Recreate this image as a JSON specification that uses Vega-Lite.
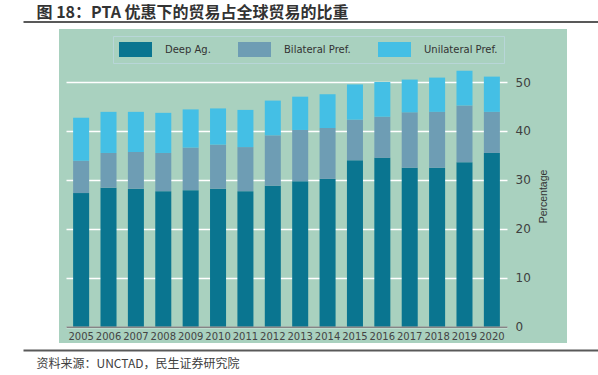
{
  "$schema": "https://vega.github.io/schema/vega-lite/v6.json",
  "width": 508,
  "height": 314,
  "autosize": {"type": "none"},
  "padding": {"left": 59, "top": 29, "right": 31, "bottom": 32},
  "background": "white",
  "data": {
    "values": [
      {"year": "2005", "type": "Deep Ag.", "value": 27.3}, {"year": "2005", "type": "Bilateral Pref.", "value": 6.6}, {"year": "2005", "type": "Unilateral Pref.", "value": 8.8},
      {"year": "2006", "type": "Deep Ag.", "value": 28.4}, {"year": "2006", "type": "Bilateral Pref.", "value": 7.1}, {"year": "2006", "type": "Unilateral Pref.", "value": 8.4},
      {"year": "2007", "type": "Deep Ag.", "value": 28.2}, {"year": "2007", "type": "Bilateral Pref.", "value": 7.5}, {"year": "2007", "type": "Unilateral Pref.", "value": 8.2},
      {"year": "2008", "type": "Deep Ag.", "value": 27.7}, {"year": "2008", "type": "Bilateral Pref.", "value": 7.8}, {"year": "2008", "type": "Unilateral Pref.", "value": 8.2},
      {"year": "2009", "type": "Deep Ag.", "value": 27.9}, {"year": "2009", "type": "Bilateral Pref.", "value": 8.7}, {"year": "2009", "type": "Unilateral Pref.", "value": 7.8},
      {"year": "2010", "type": "Deep Ag.", "value": 28.2}, {"year": "2010", "type": "Bilateral Pref.", "value": 9.0}, {"year": "2010", "type": "Unilateral Pref.", "value": 7.4},
      {"year": "2011", "type": "Deep Ag.", "value": 27.7}, {"year": "2011", "type": "Bilateral Pref.", "value": 9.0}, {"year": "2011", "type": "Unilateral Pref.", "value": 7.6},
      {"year": "2012", "type": "Deep Ag.", "value": 28.8}, {"year": "2012", "type": "Bilateral Pref.", "value": 10.3}, {"year": "2012", "type": "Unilateral Pref.", "value": 7.1},
      {"year": "2013", "type": "Deep Ag.", "value": 29.7}, {"year": "2013", "type": "Bilateral Pref.", "value": 10.5}, {"year": "2013", "type": "Unilateral Pref.", "value": 6.8},
      {"year": "2014", "type": "Deep Ag.", "value": 30.2}, {"year": "2014", "type": "Bilateral Pref.", "value": 10.4}, {"year": "2014", "type": "Unilateral Pref.", "value": 6.9},
      {"year": "2015", "type": "Deep Ag.", "value": 34.0}, {"year": "2015", "type": "Bilateral Pref.", "value": 8.3}, {"year": "2015", "type": "Unilateral Pref.", "value": 7.2},
      {"year": "2016", "type": "Deep Ag.", "value": 34.5}, {"year": "2016", "type": "Bilateral Pref.", "value": 8.4}, {"year": "2016", "type": "Unilateral Pref.", "value": 7.1},
      {"year": "2017", "type": "Deep Ag.", "value": 32.5}, {"year": "2017", "type": "Bilateral Pref.", "value": 11.3}, {"year": "2017", "type": "Unilateral Pref.", "value": 6.7},
      {"year": "2018", "type": "Deep Ag.", "value": 32.5}, {"year": "2018", "type": "Bilateral Pref.", "value": 11.4}, {"year": "2018", "type": "Unilateral Pref.", "value": 7.0},
      {"year": "2019", "type": "Deep Ag.", "value": 33.6}, {"year": "2019", "type": "Bilateral Pref.", "value": 11.6}, {"year": "2019", "type": "Unilateral Pref.", "value": 7.1},
      {"year": "2020", "type": "Deep Ag.", "value": 35.5}, {"year": "2020", "type": "Bilateral Pref.", "value": 8.4}, {"year": "2020", "type": "Unilateral Pref.", "value": 7.2}
    ]
  },
  "layer": [
    {
      "transform": [
        {
          "lookup": "type",
          "from": {
            "data": {"values": [
              {"type": "Deep Ag.", "rank": 1},
              {"type": "Bilateral Pref.", "rank": 2},
              {"type": "Unilateral Pref.", "rank": 3}
            ]},
            "key": "type",
            "fields": ["rank"]
          }
        }
      ],
      "mark": {"type": "bar"},
      "encoding": {
        "x": {
          "field": "year", "type": "nominal",
          "scale": {"range": [7, 448], "paddingInner": 0.415, "paddingOuter": 0.26},
          "axis": {
            "title": null, "orient": "bottom", "offset": -16.3, "zindex": 1,
            "domainColor": "#858585", "domainWidth": 1.5, "ticks": false,
            "labelAngle": 0, "labelOverlap": false, "labelFont": "DejaVu Sans",
            "labelFontSize": 10, "labelColor": "#444444", "labelPadding": 5, "grid": false
          }
        },
        "y": {
          "field": "value", "type": "quantitative", "stack": "zero",
          "scale": {"domain": [-3.33, 60.83], "nice": false, "zero": false},
          "axis": {
            "title": "Percentage", "orient": "left", "offset": -448,
            "values": [0, 10, 20, 30, 40, 50], "domain": false, "ticks": false,
            "grid": true, "gridColor": "#ffffff", "gridWidth": 1.5,
            "labelFont": "DejaVu Sans", "labelFontSize": 12, "labelColor": "#404040",
            "labelAlign": "left", "labelPadding": -8,
            "titleFont": "Liberation Sans", "titleFontSize": 10.5, "titleFontWeight": "normal",
            "titleColor": "#333333", "titleAngle": 270, "titleAlign": "center", "titleBaseline": "middle",
            "titleX": 36, "titleY": 167
          }
        },
        "order": {"field": "rank", "type": "quantitative", "sort": "ascending"},
        "color": {
          "field": "type", "type": "nominal",
          "sort": ["Deep Ag.", "Bilateral Pref.", "Unilateral Pref."],
          "scale": {"domain": ["Deep Ag.", "Bilateral Pref.", "Unilateral Pref."], "range": ["#0a7590", "#6e9db4", "#44bfe5"]},
          "legend": {
            "title": null, "orient": "none", "legendX": 54, "legendY": 7,
            "direction": "horizontal", "columns": 3, "columnPadding": 27,
            "symbolType": "M-2.2,-1H2.2V1H-2.2Z", "symbolSize": 225, "symbolOffset": 9,
            "symbolStrokeWidth": 0, "symbolOpacity": 1, "labelOffset": 22,
            "labelFont": "DejaVu Sans", "labelFontSize": 10, "labelColor": "#333333",
            "strokeColor": "#b8d6d8", "padding": 6
          }
        }
      }
    },
    {
      "mark": {"type": "point", "opacity": 0},
      "encoding": {
        "x": {
          "field": "year", "type": "nominal",
          "scale": {"range": [-36, 539]},
          "axis": {
            "orient": "top", "offset": 7.5, "domain": true, "domainColor": "#595959", "domainWidth": 2,
            "ticks": false, "labels": false, "grid": false,
            "title": "图 18：PTA 优惠下的贸易占全球贸易的比重",
            "titleFont": "Noto Sans CJK SC", "titleFontSize": 16, "titleFontWeight": "bold", "titleColor": "#333333",
            "titleAnchor": "start", "titleAlign": "left", "titleBaseline": "bottom", "titleX": -23, "titleY": -1
          }
        }
      }
    },
    {
      "mark": {"type": "point", "opacity": 0},
      "encoding": {
        "x": {
          "field": "year", "type": "nominal",
          "scale": {"range": [-36, 539]},
          "axis": {
            "orient": "bottom", "offset": 7, "domain": true, "domainColor": "#595959", "domainWidth": 2,
            "ticks": false, "labels": false, "grid": false,
            "title": "资料来源：UNCTAD，民生证券研究院",
            "titleFont": "Noto Sans CJK SC", "titleFontSize": 12, "titleFontWeight": "normal", "titleColor": "#404040",
            "titleAnchor": "start", "titleAlign": "left", "titleBaseline": "middle", "titleX": -23, "titleY": 13
          }
        }
      }
    }
  ],
  "resolve": {"scale": {"x": "independent"}, "axis": {"x": "independent"}},
  "config": {
    "view": {"fill": "#a9d1bf", "stroke": null}
  }
}
